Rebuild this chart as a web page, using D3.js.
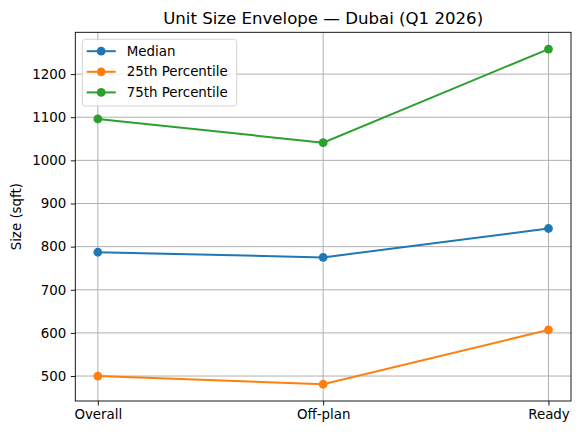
<!DOCTYPE html>
<html>
<head>
<meta charset="utf-8">
<script src="https://cdn.jsdelivr.net/npm/d3@7"></script>
<style>
  body { margin: 0; background: #fff; }
  svg text { font-family: "DejaVu Sans", sans-serif; fill: #000; }
</style>
</head>
<body>
<script>
// Chart data
const categories = ["Overall", "Off-plan", "Ready"];
const median = [787, 775, 842];
const p25 = [500, 481, 607];
const p75 = [1096, 1041, 1258];
const yTicks = [500, 600, 700, 800, 900, 1000, 1100, 1200];

const series = [
  { name: "Median", values: median, color: "#1f77b4" },
  { name: "25th Percentile", values: p25, color: "#ff7f0e" },
  { name: "75th Percentile", values: p75, color: "#2ca02c" }
];

(function() {
  const W = 580, H = 435;
  const margin = { top: 32.3, right: 9, bottom: 34, left: 75.3 };
  const width = W - margin.left - margin.right;
  const height = H - margin.top - margin.bottom;
  const fs = "13.4px";

  const svg = d3.select("body").append("svg")
    .attr("width", W)
    .attr("height", H);

  const g = svg.append("g")
    .attr("transform", `translate(${margin.left},${margin.top})`);

  // matplotlib-like 5% margins
  const xScale = d3.scaleLinear()
    .domain([-0.1, categories.length - 1 + 0.1])
    .range([0, width]);

  const all = series.flatMap(s => s.values);
  const lo = d3.min(all), hi = d3.max(all);
  const pad = (hi - lo) * 0.05;
  const yScale = d3.scaleLinear()
    .domain([lo - pad, hi + pad])
    .range([height, 0]);

  // Grid lines
  g.append("g")
    .selectAll("line")
    .data(yTicks)
    .join("line")
    .attr("x1", 0).attr("x2", width)
    .attr("y1", d => yScale(d)).attr("y2", d => yScale(d))
    .attr("stroke", "#b0b0b0").attr("stroke-width", 1);

  g.append("g")
    .selectAll("line")
    .data(categories)
    .join("line")
    .attr("x1", (d, i) => xScale(i)).attr("x2", (d, i) => xScale(i))
    .attr("y1", 0).attr("y2", height)
    .attr("stroke", "#b0b0b0").attr("stroke-width", 1);

  // Axes
  const xAxis = d3.axisBottom(xScale)
    .tickValues(categories.map((d, i) => i))
    .tickFormat(i => categories[i])
    .tickSize(4.5).tickPadding(3.5);
  const xg = g.append("g")
    .attr("transform", `translate(0,${height})`)
    .call(xAxis);

  const yAxis = d3.axisLeft(yScale)
    .tickValues(yTicks)
    .tickFormat(d3.format("d"))
    .tickSize(4.5).tickPadding(4.5);
  const yg = g.append("g").call(yAxis);

  [xg, yg].forEach(a => {
    a.select(".domain").remove();
    a.selectAll("text").style("font-size", fs);
    a.selectAll(".tick line").attr("stroke", "#000").attr("stroke-width", 0.9);
  });

  // Frame
  g.append("rect")
    .attr("width", width).attr("height", height)
    .attr("fill", "none").attr("stroke", "#000").attr("stroke-width", 0.9);

  // Lines and markers
  const line = d3.line()
    .x((d, i) => xScale(i))
    .y(d => yScale(d));

  series.forEach(s => {
    g.append("path")
      .datum(s.values)
      .attr("fill", "none")
      .attr("stroke", s.color)
      .attr("stroke-width", 2)
      .attr("d", line);
    g.selectAll(null)
      .data(s.values)
      .join("circle")
      .attr("cx", (d, i) => xScale(i))
      .attr("cy", d => yScale(d))
      .attr("r", 4.4)
      .attr("fill", s.color);
  });

  // Title
  svg.append("text")
    .attr("x", margin.left + width / 2)
    .attr("y", 24)
    .attr("text-anchor", "middle")
    .style("font-size", "16.6px")
    .text("Unit Size Envelope \u2014 Dubai (Q1 2026)");

  // Y axis label
  svg.append("text")
    .attr("transform", `translate(16,${margin.top + height / 2}) rotate(-90)`)
    .attr("text-anchor", "middle")
    .attr("dy", "0.35em")
    .style("font-size", fs)
    .text("Size (sqft)");

  // Legend
  const legend = svg.append("g").attr("transform", "translate(82.3,39.3)");
  legend.append("rect")
    .attr("width", 154.4).attr("height", 66.7)
    .attr("rx", 3)
    .attr("fill", "#fff").attr("fill-opacity", 0.8)
    .attr("stroke", "#d0d0d0").attr("stroke-width", 0.9);

  series.forEach((s, i) => {
    const y = 11.9 + i * 20.6;
    legend.append("line")
      .attr("x1", 4.4).attr("x2", 33.4)
      .attr("y1", y).attr("y2", y)
      .attr("stroke", s.color).attr("stroke-width", 2);
    legend.append("circle")
      .attr("cx", 18.9).attr("cy", y).attr("r", 4.4)
      .attr("fill", s.color);
    legend.append("text")
      .attr("x", 44.4).attr("y", y)
      .attr("dy", "0.35em")
      .style("font-size", fs)
      .text(s.name);
  });
})();
</script>
</body>
</html>
